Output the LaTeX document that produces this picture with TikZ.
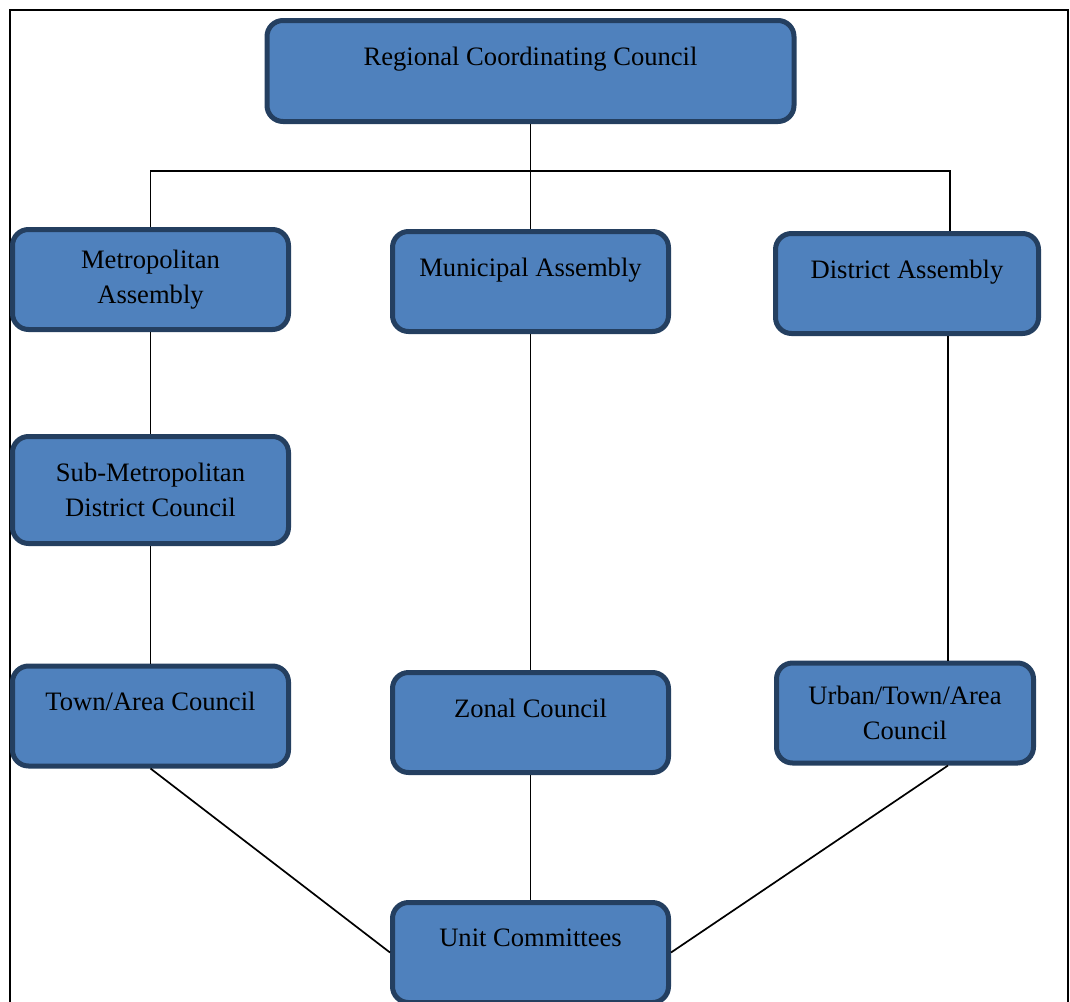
\documentclass[tikz,border=0pt]{standalone}
\usepackage{fontspec}
\setmainfont{Liberation Serif}
\usepackage{xcolor}
\usetikzlibrary{calc}
\definecolor{boxfill}{HTML}{4F81BD}
\definecolor{boxline}{HTML}{243F60}

\begin{document}
\begin{tikzpicture}[x=1pt,y=-1pt,
    orgbox/.style={draw=boxline, fill=boxfill, line width=5pt, rounded corners=16pt,
        minimum width=276pt, minimum height=100pt, inner sep=0pt, align=center,
        font=\fontsize{26.6}{35}\selectfont},
    oneline/.style={text depth=29pt},
    link/.style={line width=1.7pt}]
    \useasboundingbox (0,0) rectangle (1070,1001);
    % Draw the outer frame
    \draw[line width=2pt] (10,1030) -- (10,10) -- (1068,10) -- (1068,1030);
    % Draw the boxes
    \node[orgbox, oneline, minimum width=527pt, minimum height=101pt] (rcc) at (530.5,71) {Regional Coordinating Council};
    \node[orgbox] (metro) at (150.5,279.5) {Metropolitan\\Assembly};
    \node[orgbox, oneline] (muni) at (530.5,281.5) {Municipal Assembly};
    \node[orgbox, oneline, minimum width=263pt] (dist) at (907,283.5) {District Assembly};
    \node[orgbox, minimum height=107pt] (sub) at (150.5,490) {Sub-Metropolitan\\District Council};
    \node[orgbox, oneline] (town) at (150.5,716) {Town/Area Council};
    \node[orgbox, oneline] (zonal) at (530.5,722.5) {Zonal Council};
    \node[orgbox, minimum width=257pt] (urban) at (905,713) {Urban/Town/Area\\Council};
    \node[orgbox, oneline] (unit) at (530.5,952.5) {Unit Committees};
    % Draw the links
    \coordinate (busR) at (950,171);
    \draw[link] (rcc.south) -- (muni.north);
    \draw[link] (metro.north) |- (busR) -- (busR |- dist.north);
    \draw[link] (metro.south) -- (sub.north);
    \draw[link] (sub.south) -- (town.north);
    \draw[link] (muni.south) -- (zonal.north);
    \draw[link] ($(dist.south)+(41,0)$) -- ($(urban.north)+(43,0)$);
    \draw[link] (town.south) -- (unit.west);
    \draw[link] (zonal.south) -- (unit.north);
    \draw[link] ($(urban.south)+(43,0)$) -- (unit.east);
\end{tikzpicture}
\end{document}
